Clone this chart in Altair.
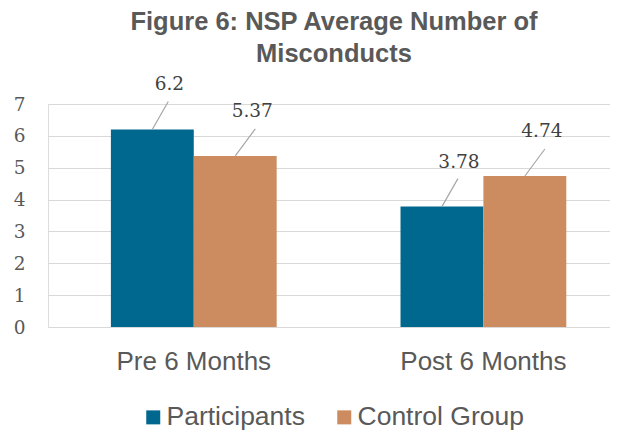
import altair as alt
import pandas as pd

categories = ["Pre 6 Months", "Post 6 Months"]
series = ["Participants", "Control Group"]
participants = [6.2, 3.78]
control_group = [5.37, 4.74]
y_ticks = [0, 1, 2, 3, 4, 5, 6, 7]
colors = ["#00688F", "#CD8C5F"]

rows = []
for i, c in enumerate(categories):
    rows.append({"period": c, "group": "Participants", "value": participants[i]})
    rows.append({"period": c, "group": "Control Group", "value": control_group[i]})
df = pd.DataFrame(rows)

xscale = alt.Scale(domain=categories, paddingInner=0.4276, paddingOuter=0.184, align=0.59)
xoff_scale = alt.Scale(domain=series, paddingInner=0, paddingOuter=0)
yscale = alt.Scale(domain=[0, 7], nice=False)

xaxis = alt.Axis(title=None, ticks=False, tickSize=0, domain=False, grid=False,
                 labelAngle=0, labelFont="Liberation Sans", labelFontSize=26,
                 labelColor="#595959", labelPadding=21)
yaxis = alt.Axis(title=None, values=y_ticks, labelOverlap=False,
                 ticks=False, tickSize=0,
                 domain=False, grid=True, gridColor="#D9D9D9", gridWidth=1.2,
                 labelFont="DejaVu Serif", labelFontSize=18.5, labelColor="#595959",
                 labelPadding=23)

X = alt.X("period:N", scale=xscale, sort=categories, axis=xaxis)
Y = alt.Y("value:Q", scale=yscale, axis=yaxis)

base = alt.Chart(df)

bars = base.mark_bar().encode(
    x=X,
    xOffset=alt.XOffset("group:N", scale=xoff_scale, sort=series),
    y=Y,
    color=alt.Color("group:N", scale=alt.Scale(domain=series, range=colors), sort=series,
                    legend=alt.Legend(orient="none", legendX=92, legendY=300,
                                      direction="horizontal", title=None, symbolType="square",
                                      symbolSize=196, symbolStrokeWidth=0, padding=0,
                                      labelFont="Liberation Sans", labelFontSize=26.5,
                                      labelLimit=400,
                                      labelColor="#595959", columnPadding=26, labelOffset=0)),
)

labels = base.mark_text(font="DejaVu Serif", fontSize=18.5, color="#404040",
                        dx=17, dy=-45, baseline="middle", align="center").encode(
    x=X,
    xOffset=alt.XOffset("group:N", scale=xoff_scale, sort=series),
    y=Y,
    text=alt.Text("value:Q"),
)

lead_p = base.transform_filter(alt.datum.group == "Participants").mark_rule(
    color="#A6A6A6", strokeWidth=1.2, xOffset=-41.5, x2Offset=-41.5 + 16, y2Offset=-28
).encode(
    x=X,
    x2=alt.X2("period:N"),
    y=Y,
    y2=alt.Y2("value:Q"),
)

lead_c = base.transform_filter(alt.datum.group == "Control Group").mark_rule(
    color="#A6A6A6", strokeWidth=1.2, xOffset=41.5, x2Offset=41.5 + 20, y2Offset=-27
).encode(
    x=X,
    x2=alt.X2("period:N"),
    y=Y,
    y2=alt.Y2("value:Q"),
)

chart = alt.layer(bars, lead_p, lead_c, labels).properties(
    width=562,
    height=223,
    padding={"left": 40, "top": 96, "right": 0, "bottom": 104},
    autosize=alt.AutoSizeParams(type="none"),
    title=alt.Title(["Figure 6: NSP Average Number of", "Misconducts"],
                    font="Liberation Sans", fontSize=25.5, fontWeight="bold", color="#595959",
                    anchor="middle", lineHeight=32, offset=8, dx=5),
).configure_view(stroke=None).configure(background="white")

chart.save("out.html", embed_options={"renderer": "svg", "actions": False})
